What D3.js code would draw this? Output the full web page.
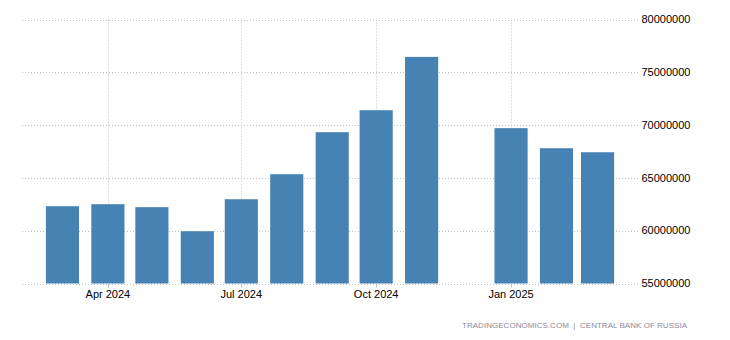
<!DOCTYPE html>
<html>
<head>
<meta charset="utf-8">
<script src="https://cdn.jsdelivr.net/npm/d3@7/dist/d3.min.js"></script>
<style>
  html, body { margin: 0; padding: 0; background: #fff; }
  svg { display: block; font-family: "Liberation Sans", Arial, sans-serif; }
</style>
</head>
<body>
<svg id="chart" width="730" height="340"></svg>
<script>
// Monthly series (first day of each month); December 2024 has no value
const months = ["2024-03", "2024-04", "2024-05", "2024-06", "2024-07", "2024-08",
                "2024-09", "2024-10", "2024-11", "2025-01", "2025-02", "2025-03"];
const values = [62320000, 62510000, 62230000, 59950000, 62980000, 65350000,
                69330000, 71410000, 76460000, 69710000, 67810000, 67430000];
const yTicks = [55000000, 60000000, 65000000, 70000000, 75000000, 80000000];
const sourceText = "TRADINGECONOMICS.COM  |  CENTRAL BANK OF RUSSIA";

const parse = d3.utcParse("%Y-%m");
const data = months.map((m, i) => ({ date: parse(m), value: values[i] }));

const svg = d3.select("#chart");
const plotLeft = 22, plotRight = 638, plotTop = 19.5, plotBottom = 283.5;
const dayMs = 864e5;
const padDays = 27.6;

const first = data[0].date, last = data[data.length - 1].date;
const x = d3.scaleUtc()
  .domain([new Date(first.getTime() - padDays * dayMs), new Date(last.getTime() + padDays * dayMs)])
  .range([plotLeft, plotRight]);
const y = d3.scaleLinear()
  .domain([yTicks[0], yTicks[yTicks.length - 1]])
  .range([plotBottom, plotTop]);

const barW = x(new Date(first.getTime() + 22.6 * dayMs)) - x(first);

const grid = { stroke: "#c0c0c0", dash: "1,2" };

// horizontal grid lines
svg.append("g").selectAll("line").data(yTicks).join("line")
  .attr("x1", plotLeft).attr("x2", plotRight)
  .attr("y1", d => Math.round(y(d)) + 0.5).attr("y2", d => Math.round(y(d)) + 0.5)
  .attr("stroke", grid.stroke).attr("stroke-dasharray", grid.dash);

// vertical grid lines at quarter ticks
const xTicks = x.ticks(d3.utcMonth.every(3)).filter(d => d.getUTCMonth() % 3 === 0);
svg.append("g").selectAll("line").data(xTicks).join("line")
  .attr("x1", d => Math.round(x(d)) + 0.5).attr("x2", d => Math.round(x(d)) + 0.5)
  .attr("y1", plotTop).attr("y2", plotBottom)
  .attr("stroke", grid.stroke).attr("stroke-dasharray", grid.dash);

// bars
svg.append("g").selectAll("rect").data(data).join("rect")
  .attr("x", d => x(d.date) - barW / 2)
  .attr("width", barW)
  .attr("y", d => y(d.value))
  .attr("height", d => y(yTicks[0]) - y(d.value))
  .attr("fill", "#4682b4");

// x axis ticks and labels
const xAxis = svg.append("g");
xAxis.selectAll("line").data(xTicks).join("line")
  .attr("x1", d => Math.round(x(d)) + 0.5).attr("x2", d => Math.round(x(d)) + 0.5)
  .attr("y1", plotBottom).attr("y2", plotBottom + 4)
  .attr("stroke", "#c0c0c0");
xAxis.selectAll("text").data(xTicks).join("text")
  .attr("x", d => x(d))
  .attr("y", 298)
  .attr("text-anchor", "middle")
  .attr("font-size", "11px")
  .attr("fill", "#000")
  .text(d => d3.utcFormat("%b %Y")(d));

// y axis labels on the right
svg.append("g").selectAll("text").data(yTicks).join("text")
  .attr("x", 641.5)
  .attr("y", d => y(d) + 3.6)
  .attr("font-size", "11px")
  .attr("fill", "#000")
  .text(d => d3.format("d")(d));

// source line
svg.append("text")
  .attr("x", 462).attr("y", 327.5)
  .attr("font-size", "8px")
  .attr("fill", "#8b8b9b")
  .attr("textLength", 225)
  .attr("lengthAdjust", "spacing")
  .attr("xml:space", "preserve")
  .style("white-space", "pre")
  .text(sourceText);
</script>
</body>
</html>
